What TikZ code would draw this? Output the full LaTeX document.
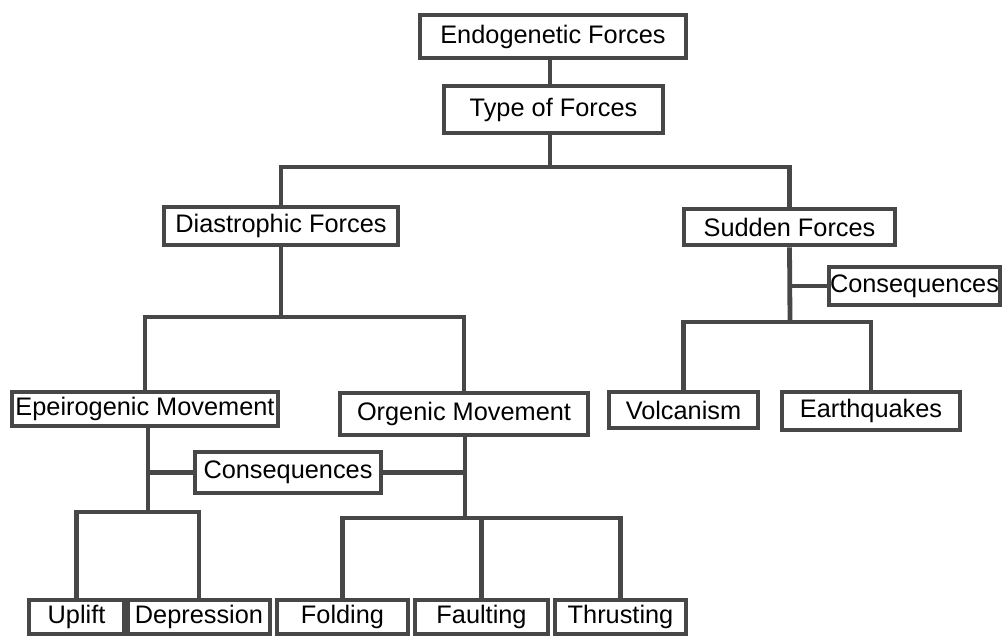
\documentclass[tikz,border=0pt]{standalone}
\usepackage{fontspec}
\setmainfont{Liberation Sans}
\begin{document}
\begin{tikzpicture}[x=0.75pt,y=-0.75pt,
  box/.style={draw=black!72, line width=3.6pt, fill=white, inner sep=0pt, font=\fontsize{19}{22}\selectfont},
  link/.style={draw=black!72, line width=3.6pt}]
\useasboundingbox (0,0) rectangle (1005,637);
\fill[white] (0,0) rectangle (1005,637);
% connectors first (behind boxes)
\coordinate (j0) at (550,0);
\coordinate (j1) at (550,167);
\coordinate (j2) at (281,317);
\coordinate (j3) at (148,512);
\coordinate (j4) at (465,518);
\coordinate (j5) at (790,322);
% nodes
\node[box, minimum width=199.5pt, minimum height=32.25pt] (endo) at (553,36.5) {Endogenetic Forces};
\node[box, minimum width=164.25pt, minimum height=35.25pt] (type) at (553.5,109.5) {Type of Forces};
\node[box, minimum width=175.5pt, minimum height=28.5pt] (dias) at (281,226) {Diastrophic Forces};
\node[box, minimum width=158.25pt, minimum height=27pt] (sudden) at (789.5,227) {Sudden Forces};
\node[box, minimum width=199.5pt, minimum height=25.5pt] (epei) at (145,409) {Epeirogenic Movement};
\node[box, minimum width=186pt, minimum height=31.5pt] (orge) at (464,414) {Orgenic Movement};
\node[box, minimum width=128.25pt, minimum height=28.5pt] (cons2) at (914.5,286) {Consequences};
\node[box, minimum width=111.75pt, minimum height=27pt] (volc) at (683.5,410) {Volcanism};
\node[box, minimum width=133.5pt, minimum height=28.5pt] (earth) at (871,411) {Earthquakes};
\node[box, minimum width=139.5pt, minimum height=30.75pt] (cons1) at (288,472.5) {Consequences};
\node[box, minimum width=71.25pt, minimum height=25.5pt] (uplift) at (76.5,617) {Uplift};
\node[box, minimum width=106.5pt, minimum height=25.5pt] (depr) at (199,617) {Depression};
\node[box, minimum width=98.25pt, minimum height=25.5pt] (fold) at (342.5,617) {Folding};
\node[box, minimum width=99.75pt, minimum height=25.5pt] (fault) at (481.5,617) {Faulting};
\node[box, minimum width=98.25pt, minimum height=25.5pt] (thrust) at (620.5,617) {Thrusting};
% links
\draw[link] (endo.south -| j0) -- (type.north -| j0);
\draw[link] (type.south -| j1) -- (j1);
\draw[link] (dias.north) |- (j1) -| (sudden.north);
\draw[link] (dias.south) -- (j2);
\draw[link] (epei.north) |- (j2) -| (orge.north);
\draw[link] (epei.south -| j3) -- (j3);
\draw[link] (uplift.north) |- (j3) -| (depr.north);
\draw[link] (cons1.west) -- (cons1.west -| j3);
\draw[link] (orge.south -| j4) -- (j4);
\draw[link] (cons1.east) -- (cons1.east -| j4);
\draw[link] (fold.north) |- (j4) -| (thrust.north);
\draw[link] (fault.north) -- (fault.north |- j4);
\draw[link] (sudden.south) -- (j5);
\draw[link] (cons2.west) -- (cons2.west -| j5);
\draw[link] (volc.north) |- (j5) -| (earth.north);
\end{tikzpicture}
\end{document}
